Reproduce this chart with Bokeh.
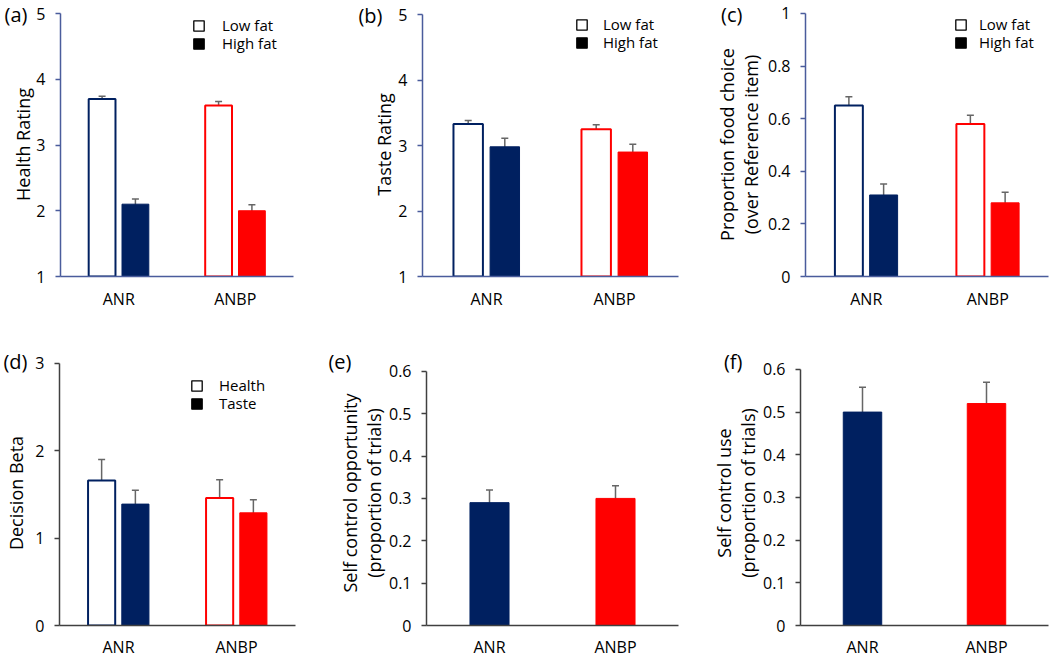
from bokeh.plotting import figure
from bokeh.layouts import row, column
from bokeh.models import (FactorRange, Range1d, FixedTicker, NumeralTickFormatter,
                          ColumnDataSource, Whisker, TeeHead, Legend, LegendItem,
                          LinearAxis)
from bokeh.core.properties import value
from bokeh.transform import dodge
from bokeh.embed import file_html
from bokeh.resources import INLINE

# ---------------- data ----------------
groups = ["ANR", "ANBP"]
group_colors = ["#002060", "#FF0000"]

health_low = [3.70, 3.60]
health_low_err = [0.04, 0.06]
health_high = [2.10, 2.00]
health_high_err = [0.08, 0.09]

taste_low = [3.33, 3.25]
taste_low_err = [0.05, 0.065]
taste_high = [2.98, 2.90]
taste_high_err = [0.13, 0.12]

choice_low = [0.65, 0.58]
choice_low_err = [0.033, 0.033]
choice_high = [0.31, 0.28]
choice_high_err = [0.042, 0.04]

beta_health = [1.66, 1.46]
beta_health_err = [0.24, 0.21]
beta_taste = [1.39, 1.29]
beta_taste_err = [0.16, 0.15]

sc_opportunity = [0.29, 0.30]
sc_opportunity_err = [0.03, 0.03]
sc_use = [0.50, 0.52]
sc_use_err = [0.058, 0.05]

ticks_rating = [1, 2, 3, 4, 5]
ticks_choice = [0, 0.2, 0.4, 0.6, 0.8, 1.0]
ticks_beta = [0, 1, 2, 3]
ticks_prop = [0, 0.1, 0.2, 0.3, 0.4, 0.5, 0.6]

FONT = "Open Sans"
ERR_COLOR = "#666666"
BLUE_AXIS = "#4A5C9C"
GRAY_AXIS = "#404040"
OFF = 0.143
GW = 0.23
SW = 0.31


def base_fig(cfg):
    width, height = cfg["size"]
    left, right = cfg["lr"]
    y0, y1 = cfg["yr"]
    top_px = cfg["top"]              # canvas pixel where y1 sits
    bottom = cfg["bottom"]
    letter_y = cfg["letter_y"]       # canvas pixel of the panel letter's centre
    frame_top = cfg["frame_top"]
    frame_bottom = height - bottom
    k = (y1 - y0) / (frame_bottom - top_px)
    y_end = y1 + (top_px - frame_top) * k

    p = figure(width=width, height=height, x_range=FactorRange(factors=groups),
               y_range=Range1d(y0, y_end), output_backend="svg", toolbar_location=None,
               min_border_left=left, min_border_right=right,
               min_border_top=frame_top, min_border_bottom=bottom)
    p.outline_line_color = None
    p.xgrid.grid_line_color = None
    p.ygrid.grid_line_color = None
    p.background_fill_color = "white"
    p.border_fill_color = "white"

    axis_color = cfg["axis_color"]
    yax = p.yaxis[0]
    yax.bounds = (y0, y1)
    yax.ticker = FixedTicker(ticks=cfg["ticks"])
    yax.formatter = NumeralTickFormatter(format=cfg["fmt"])
    yax.axis_line_color = axis_color
    yax.axis_line_width = 1.5
    yax.major_tick_line_color = axis_color
    yax.major_tick_line_width = 1.5
    yax.major_tick_in = 0
    yax.major_tick_out = 5
    yax.minor_tick_line_color = None
    yax.major_label_standoff = 10
    yax.major_label_text_font = FONT
    yax.major_label_text_font_size = "16px"
    yax.major_label_text_color = "black"
    yax.axis_label = cfg["ylabel"]
    yax.axis_label_text_font = FONT
    yax.axis_label_text_font_size = "18px"
    yax.axis_label_text_font_style = "normal"
    yax.axis_label_text_color = "black"
    yax.axis_label_text_line_height = 1.0
    yax.axis_label_standoff = cfg["ylabel_standoff"]

    xax = p.xaxis[0]
    xax.axis_line_color = axis_color
    xax.axis_line_width = 1.5
    xax.major_tick_line_color = None
    xax.major_tick_in = 0
    xax.major_tick_out = 0
    xax.minor_tick_line_color = None
    xax.major_label_standoff = cfg["xstandoff"]
    xax.major_label_text_font = FONT
    xax.major_label_text_font_size = "16px"
    xax.major_label_text_color = "black"

    # panel letter: an outer left axis whose only tick sits at the letter's height
    p.extra_y_ranges = {"letter": Range1d(-(frame_bottom - letter_y), letter_y - frame_top)}
    lax = LinearAxis(y_range_name="letter", ticker=FixedTicker(ticks=[0]),
                     major_label_overrides={0: cfg["letter"]},
                     axis_line_color=None, major_tick_line_color=None,
                     minor_tick_line_color=None, major_tick_in=0, major_tick_out=0,
                     major_label_standoff=cfg["letter_standoff"],
                     major_label_text_font=FONT, major_label_text_font_size="20px",
                     major_label_text_color="black")
    p.add_layout(lax, "left")
    return p


def add_whisker(p, src, base, lo, hi):
    w = Whisker(source=src, base=base, lower=lo, upper=hi,
                line_color=ERR_COLOR, line_width=1.5,
                upper_head=TeeHead(size=7, line_color=ERR_COLOR, line_width=1.5),
                lower_head=TeeHead(size=7, line_color=ERR_COLOR, line_width=1.5))
    p.add_layout(w)


def legend_entry(p, name, renderer, loc, standoff):
    leg = Legend(items=[LegendItem(label=value(name), renderers=[renderer], index=0)],
                 location=loc, orientation="vertical",
                 border_line_color=None, background_fill_alpha=0,
                 inactive_fill_alpha=0, padding=0, margin=0,
                 glyph_width=13, glyph_height=13, label_height=15,
                 label_standoff=standoff,
                 label_text_font=FONT, label_text_font_size="15px",
                 label_text_color="black")
    p.add_layout(leg)


def grouped_panel(cfg, open_vals, open_err, fill_vals, fill_err, names):
    p = base_fig(cfg)
    y0 = cfg["yr"][0]
    src = ColumnDataSource(dict(
        grp=groups, color=group_colors,
        a=open_vals, a_lo=[v - e for v, e in zip(open_vals, open_err)],
        a_hi=[v + e for v, e in zip(open_vals, open_err)],
        b=fill_vals, b_lo=[v - e for v, e in zip(fill_vals, fill_err)],
        b_hi=[v + e for v, e in zip(fill_vals, fill_err)],
    ))
    xa = dodge("grp", -OFF, range=p.x_range)
    xb = dodge("grp", OFF, range=p.x_range)
    p.vbar(x=xa, top="a", bottom=y0, width=GW, fill_color="white",
           line_color="color", line_width=2, source=src)
    p.vbar(x=xb, top="b", bottom=y0, width=GW, fill_color="color",
           line_color="color", line_width=1, source=src)
    add_whisker(p, src, xa, "a_lo", "a_hi")
    add_whisker(p, src, xb, "b_lo", "b_hi")

    # hidden renderers that only provide the black legend swatches
    r_open = p.vbar(x=xa, top="a", bottom=y0, width=GW, fill_color="white",
                    line_color="black", line_width=1.3, source=src, visible=False)
    r_fill = p.vbar(x=xb, top="b", bottom=y0, width=GW, fill_color="black",
                    line_color="black", line_width=1.3, source=src, visible=False)
    lx, ly1, ly2 = cfg["legend_loc"]
    legend_entry(p, names[0], r_open, (lx, ly1), cfg["legend_standoff"])
    legend_entry(p, names[1], r_fill, (lx, ly2), cfg["legend_standoff"])
    return p


def single_panel(cfg, vals, err):
    p = base_fig(cfg)
    y0 = cfg["yr"][0]
    src = ColumnDataSource(dict(
        grp=groups, color=group_colors, v=vals,
        lo=[v - e for v, e in zip(vals, err)],
        hi=[v + e for v, e in zip(vals, err)],
    ))
    p.vbar(x="grp", top="v", bottom=y0, width=SW, fill_color="color",
           line_color="color", line_width=1, source=src)
    add_whisker(p, src, "grp", "lo", "hi")
    return p


cfg_a = dict(size=(350, 330), lr=(60, 57), yr=(1, 5), top=13, bottom=54,
             frame_top=12,
             ticks=ticks_rating, fmt="0", axis_color=BLUE_AXIS, ylabel="Health Rating",
             ylabel_standoff=-2, xstandoff=11, letter="(a)", letter_y=13,
             letter_standoff=-19,
             legend_loc=(132, 241, 223), legend_standoff=17)
cfg_b = dict(size=(350, 330), lr=(72, 22), yr=(1, 5), top=14, bottom=54,
             frame_top=12,
             ticks=ticks_rating, fmt="0", axis_color=BLUE_AXIS, ylabel="Taste Rating",
             ylabel_standoff=-1, xstandoff=11, letter="(b)", letter_y=15,
             letter_standoff=-13,
             legend_loc=(153, 242, 224), legend_standoff=15)
cfg_c = dict(size=(350, 330), lr=(105, 2), yr=(0, 1), top=12, bottom=54,
             frame_top=11,
             ticks=ticks_choice, fmt="0.[0]", axis_color=BLUE_AXIS,
             ylabel="Proportion food choice\n(over Reference item)",
             ylabel_standoff=2, xstandoff=11, letter="(c)", letter_y=13,
             letter_standoff=-31,
             legend_loc=(149, 242, 224), legend_standoff=12)
cfg_d = dict(size=(325, 330), lr=(58, 30), yr=(0, 3), top=33, bottom=34,
             frame_top=30,
             ticks=ticks_beta, fmt="0", axis_color=GRAY_AXIS, ylabel="Decision Beta",
             ylabel_standoff=4, xstandoff=10, letter="(d)", letter_y=31,
             letter_standoff=-26,
             legend_loc=(131, 230, 212), legend_standoff=16)
cfg_e = dict(size=(375, 330), lr=(97, 22), yr=(0, 0.6), top=38, bottom=34,
             frame_top=27,
             ticks=ticks_prop, fmt="0.[0]", axis_color=GRAY_AXIS,
             ylabel="Self control opportunity\n(proportion of trials)",
             ylabel_standoff=0, xstandoff=10, letter="(e)", letter_y=28,
             letter_standoff=-17)
cfg_f = dict(size=(350, 330), lr=(100, 2), yr=(0, 0.6), top=37, bottom=34,
             frame_top=28,
             ticks=ticks_prop, fmt="0.[0]", axis_color=GRAY_AXIS,
             ylabel="Self control use\n(proportion of trials)",
             ylabel_standoff=0, xstandoff=10, letter="(f)", letter_y=29,
             letter_standoff=-34)

pa = grouped_panel(cfg_a, health_low, health_low_err, health_high, health_high_err,
                   ["Low fat", "High fat"])
pb = grouped_panel(cfg_b, taste_low, taste_low_err, taste_high, taste_high_err,
                   ["Low fat", "High fat"])
pc = grouped_panel(cfg_c, choice_low, choice_low_err, choice_high, choice_high_err,
                   ["Low fat", "High fat"])
pd_ = grouped_panel(cfg_d, beta_health, beta_health_err, beta_taste, beta_taste_err,
                    ["Health", "Taste"])
pe = single_panel(cfg_e, sc_opportunity, sc_opportunity_err)
pf = single_panel(cfg_f, sc_use, sc_use_err)

layout = column(row(pa, pb, pc, spacing=0), row(pd_, pe, pf, spacing=0), spacing=0)

with open("out.html", "w") as f:
    f.write(file_html(layout, INLINE))
